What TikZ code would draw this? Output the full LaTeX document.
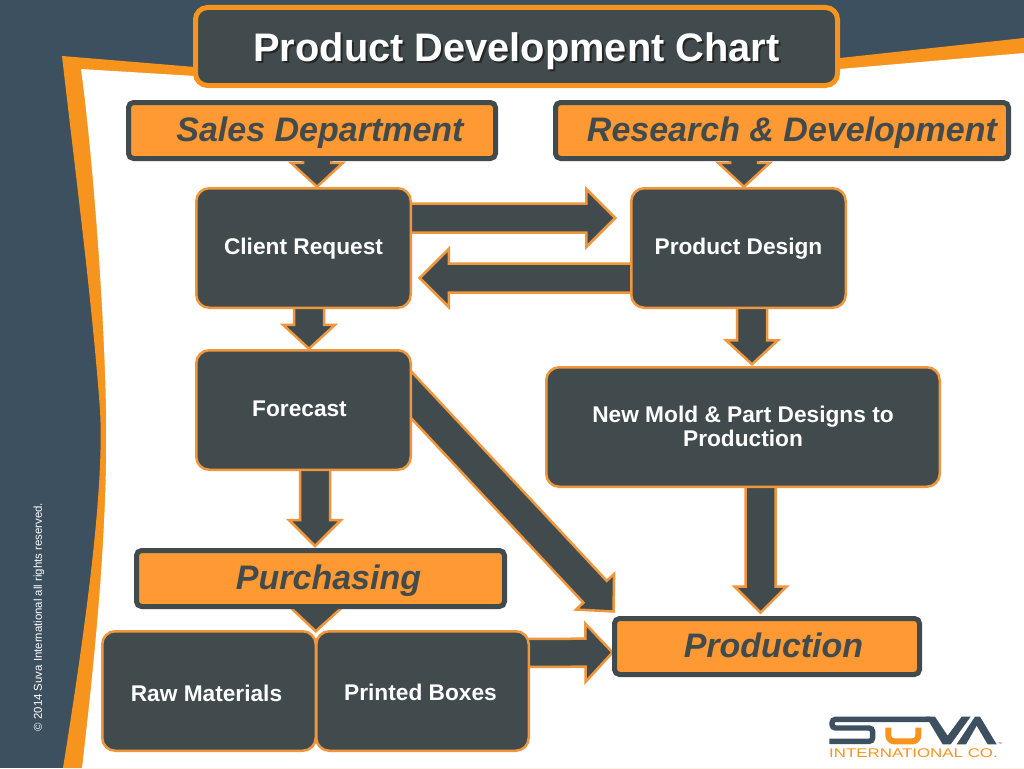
\documentclass[tikz,border=0pt]{standalone}
\usepackage{fontspec}
\setmainfont{Liberation Sans}
\usetikzlibrary{calc}
\pgfdeclarelayer{frame}
\pgfdeclarelayer{arrows}
\pgfsetlayers{frame,arrows,main}
\definecolor{slatebg}{HTML}{3C5060}
\definecolor{frameor}{HTML}{F7941D}
\definecolor{boxor}{HTML}{FF9933}
\definecolor{edgeor}{HTML}{F0963C}
\definecolor{boxdark}{HTML}{414B4E}
\tikzset{
  titlebox/.style={draw=frameor,fill=boxdark,line width=5pt,rounded corners=12pt,outer sep=0pt,inner sep=0pt,
    text=white,font=\bfseries\fontsize{39.8}{42}\selectfont,text height=28.5pt,text depth=0pt},
  headbox/.style={draw=boxdark,fill=boxor,line width=5pt,rounded corners=5pt,outer sep=0pt,inner sep=0pt,
    text=boxdark,font=\bfseries\itshape\fontsize{34}{36}\selectfont,text height=24.3pt,text depth=0pt},
  stepbox/.style={draw=edgeor,fill=boxdark,line width=2.5pt,rounded corners=13pt,outer sep=0pt,inner sep=0pt,
    text=white,font=\bfseries\fontsize{22.7}{24}\selectfont,text height=16.2pt,text depth=0pt,align=center},
  blockshape/.style={draw=edgeor,fill=boxdark,line width=2.5pt,line join=miter,miter limit=10},
}
\newcommand\blockarrow[5]{%
  \coordinate (ba) at #1;
  \coordinate (bb) at #2;
  \coordinate (bh) at ($(bb)!#5pt!(ba)$);
  \begin{pgfonlayer}{arrows}
    \draw[blockshape] ($(ba)!#3pt!90:(bb)$) -- ($(bh)!#3pt!90:(bb)$) -- ($(bh)!#4pt!90:(bb)$) -- (bb)
      -- ($(bh)!#4pt!-90:(bb)$) -- ($(bh)!#3pt!-90:(bb)$) -- ($(ba)!#3pt!-90:(bb)$) -- cycle;
  \end{pgfonlayer}%
}
\begin{document}
\begin{tikzpicture}[x=1pt,y=-1pt]
\useasboundingbox (0,0) rectangle (1024,768);
\begin{pgfonlayer}{frame}
  \fill[slatebg] (0,0) rectangle (1024,768);
  \fill[frameor] (62,56) -- (195,67) -- (840,58) -- (1024,38) -- (1024,768) -- (63,768)
     .. controls (90,600) and (104,480) .. (100,410) .. controls (92,300) and (75,170) .. cycle;
  \fill[white] (81,69) -- (195,76) -- (840,69) -- (1024,53) -- (1024,768) -- (82,768)
     .. controls (97,640) and (108,520) .. (106,410) .. controls (104,300) and (92,150) .. cycle;
\end{pgfonlayer}

% boxes
\node[titlebox,minimum width=642pt,minimum height=78pt] (title) at (516.5,46.5)
  {\raisebox{-1pt}{\rlap{\raisebox{-2pt}{\hspace*{2pt}\textcolor{black!85}{Product Development Chart}}}Product Development Chart}};
\node[headbox,minimum width=367pt,minimum height=56pt] (sales) at (312,130.5) {\hspace*{16pt}\raisebox{1.5pt}{Sales Department}};
\node[headbox,minimum width=453pt,minimum height=56pt] (rd) at (782,130.5) {\hspace*{20pt}\raisebox{1.5pt}{Research \& Development}};
\node[stepbox,minimum width=214.5pt,minimum height=119.5pt] (client) at (303.5,248) {\raisebox{2pt}{Client Request}};
\node[stepbox,minimum width=214.5pt,minimum height=119.5pt] (design) at (738.5,248) {\raisebox{2pt}{Product Design}};
\node[stepbox,minimum width=214.5pt,minimum height=119.5pt] (forecast) at (303.5,410) {\raisebox{2pt}{Forecast\hspace*{8pt}}};
\node[stepbox,minimum width=393.5pt,minimum height=119.5pt,text height=38.2pt] (mold) at (743,427) {New Mold \& Part Designs to\\Production};
\node[headbox,minimum width=368pt,minimum height=56pt] (purch) at (320.5,578.5) {\hspace*{16pt}\raisebox{1.5pt}{Purchasing}};
\node[stepbox,minimum width=213.5pt,minimum height=119.5pt] (raw) at (209,691) {\raisebox{-2pt}{Raw Materials\hspace*{5pt}}};
\node[stepbox,minimum width=212.5pt,minimum height=119.5pt] (boxes) at (422.5,691) {\raisebox{-1pt}{Printed Boxes\hspace*{4pt}}};
\node[headbox,minimum width=305pt,minimum height=56pt] (prod) at (767,646.5) {\hspace*{13pt}\raisebox{1.5pt}{Production}};

% connectors
\blockarrow{($(sales.south)+(5,-4)$)}{($(client.north)+(13.5,-1.5)$)}{14}{26}{24}
\blockarrow{($(rd.south)+(-38,-4)$)}{($(design.north)+(5.5,-1.5)$)}{14}{26}{24}
\blockarrow{($(client.east)+(-2,-30)$)}{($(design.west)+(-16,-30)$)}{14.5}{29}{29}
\blockarrow{($(design.west)+(2,30)$)}{($(client.east)+(9,30)$)}{14.5}{29}{29}
\blockarrow{($(client.south)+(5.5,-2)$)}{($(forecast.north)+(5.5,-1.5)$)}{15}{26}{24}
\blockarrow{($(design.south)+(13.5,-2)$)}{($(mold.north)+(9,-3)$)}{15}{26}{24}
\blockarrow{($(forecast.south)+(11.5,-2)$)}{($(purch.north)+(-5.5,-4.5)$)}{15}{26}{26}
\blockarrow{($(forecast.east)+(-19,-36)$)}{($(prod.north west)+(-1,-7)$)}{16}{26}{27}
\blockarrow{($(mold.south)+(17.5,-2)$)}{($(prod.north)+(-6.5,-6)$)}{15}{26}{26}
\blockarrow{($(purch.south)+(-4.5,-3)$)}{($(raw.north east)+(0,0)$)}{15}{26}{24}
\blockarrow{($(boxes.east)+(-2,-38)$)}{($(prod.west)+(-2,6)$)}{14}{29}{27}

% copyright
\node[rotate=90,text=white,font=\fontsize{11.4}{13}\selectfont,inner sep=0pt] (copy) at (39,617) {© 2014 Suva International all rights reserved.};

% logo
\begin{scope}[shift={(820,705)},x=0.3333pt,y=-0.3333pt]
  \draw[slatebg,line width=5.4pt,rounded corners=3.5pt,line cap=butt] (330,43) -- (36,43) -- (36,69) -- (158,69) -- (158,109) -- (28,109);
  \fill[slatebg] (318,35) -- (345,35) -- (383,92) -- (425,35) -- (452,35) -- (392,118) -- (368,118) -- cycle;
  \fill[slatebg] (465,35) -- (410,118) -- (438,118) -- (470,62) -- (503,118) -- (530,118) -- (480,35) -- cycle;
  \draw[frameor,line width=6pt,rounded corners=6pt] (205,68) -- (205,109) -- (295,109) -- (295,68);
\end{scope}
\node[text=frameor,font=\fontsize{12.6}{14}\selectfont,inner sep=0pt] (logotext) at (913.5,753) {\scalebox{1.34}[1]{INTERNATIONAL CO.}};
\node[text=boxdark,font=\fontsize{4}{5}\selectfont,inner sep=0pt] (tm) at (1000,744) {™};
\end{tikzpicture}
\end{document}
